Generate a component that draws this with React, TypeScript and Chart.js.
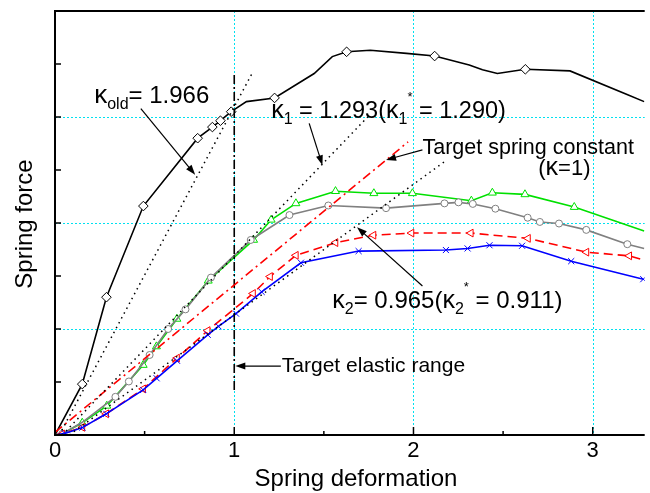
import React, { useEffect, useRef } from 'react';
import { Chart, registerables } from 'chart.js';
Chart.register(...registerables);

// ---- axes ----
const X_MIN = 0;
const X_MAX = 3.29;
const Y_MIN = 0;
const Y_MAX = 8;
const xTickLabels = ['0', '1', '2', '3'];
const xMajorTicks = [0, 1, 2, 3];
const xMinorTicks = [0.5, 1.5, 2.5];
const yTicks = [1, 2, 3, 4, 5, 6, 7];
const xGrid = [1, 2, 3];
const yGrid = [2, 4, 6];

// ---- series (black, diamonds) ----
const blackX = [0, 0.152, 0.287, 0.493, 0.796, 0.878, 0.923, 0.983, 1.068, 1.225, 1.446, 1.547, 1.627, 1.759, 1.961, 2.118, 2.311, 2.385, 2.468, 2.624, 2.873, 3.195, 3.287];
const blackY = [0, 0.96, 2.6, 4.32, 5.6, 5.81, 5.93, 6.1, 6.29, 6.36, 6.82, 7.14, 7.23, 7.26, 7.2, 7.15, 6.98, 6.89, 6.82, 6.9, 6.87, 6.42, 6.29];
const blackMarked = [0, 1, 1, 1, 1, 1, 1, 1, 0, 1, 0, 0, 1, 0, 0, 1, 0, 0, 0, 1, 0, 0, 0];

// ---- series (green, triangles) ----
const greenX = [0, 0.04, 0.152, 0.289, 0.492, 0.566, 0.68, 0.855, 1.108, 1.206, 1.344, 1.565, 1.779, 1.994, 2.323, 2.44, 2.622, 2.897, 3.287];
const greenY = [0, 0.02, 0.23, 0.55, 1.32, 1.67, 2.19, 2.91, 3.68, 4.06, 4.37, 4.6, 4.56, 4.56, 4.42, 4.57, 4.54, 4.3, 3.85];
const greenMarked = [0, 1, 1, 1, 1, 1, 1, 1, 1, 1, 1, 1, 1, 1, 1, 1, 1, 1, 0];

// ---- series (gray, circles) ----
const grayX = [0, 0.04, 0.152, 0.337, 0.412, 0.528, 0.631, 0.728, 0.87, 1.092, 1.308, 1.525, 1.847, 2.173, 2.251, 2.331, 2.457, 2.637, 2.705, 2.812, 2.964, 3.193, 3.287];
const grayY = [0, 0.02, 0.24, 0.72, 1.01, 1.51, 2.0, 2.37, 2.97, 3.68, 4.15, 4.33, 4.28, 4.37, 4.39, 4.36, 4.27, 4.1, 4.02, 3.99, 3.87, 3.6, 3.52];
const grayMarked = [0, 1, 0, 1, 1, 1, 1, 1, 1, 1, 1, 1, 1, 1, 1, 1, 1, 1, 1, 1, 1, 1, 0];

// ---- series (red dashed, left triangles) ----
const redX = [0, 0.04, 0.153, 0.286, 0.492, 0.681, 0.852, 1.105, 1.2, 1.344, 1.565, 1.777, 1.989, 2.32, 2.639, 2.965, 3.204, 3.287];
const redY = [0, 0.02, 0.145, 0.4, 0.87, 1.45, 1.97, 2.67, 2.99, 3.39, 3.63, 3.77, 3.81, 3.81, 3.71, 3.45, 3.38, 3.3];
const redMarked = [0, 1, 1, 1, 1, 1, 1, 1, 1, 1, 1, 1, 1, 1, 1, 1, 1, 0];

// ---- series (blue, crosses) ----
const blueX = [0, 0.055, 0.153, 0.286, 0.492, 0.567, 0.681, 0.852, 0.912, 1.01, 1.153, 1.372, 1.694, 2.181, 2.302, 2.424, 2.606, 2.88, 3.282];
const blueY = [0, 0.03, 0.14, 0.4, 0.85, 1.07, 1.4, 1.89, 2.05, 2.29, 2.7, 3.25, 3.47, 3.49, 3.52, 3.58, 3.57, 3.28, 2.94];
const blueMarked = [0, 1, 1, 1, 1, 1, 1, 1, 1, 1, 1, 1, 1, 1, 1, 1, 1, 1, 1];

// ---- reference lines ----
const kOldX = [0.024, 1.099];
const kOldY = [0, 6.82];
const k1X = [0.04, 1.75];
const k1Y = [0, 6.02];
const k2X = [0.08, 2.17];
const k2Y = [0, 5.15];
const targetX = [0, 1.97];
const targetY = [0.05, 5.53];
const elasticX = [1, 1];
const elasticY = [0.85, 6.83];

// ---- annotations (data coordinates) ----
const kOldLabelAt = [0.23, 6.26];
const kOldArrow = [0.479, 6.16, 0.782, 4.91];
const k1LabelAt = [1.206, 5.99];
const k1Arrow = [1.418, 5.88, 1.492, 5.09];
const targetLabelAt = [2.05, 5.31];
const targetLabel2At = [2.696, 4.9];
const targetArrow = [2.05, 5.38, 1.847, 5.19];
const k2LabelAt = [1.547, 2.39];
const k2Arrow = [2.05, 2.81, 1.685, 3.92];
const elasticLabelAt = [1.26, 1.19];
const elasticArrow = [1.26, 1.3, 1.006, 1.3];

const FONT = "'Liberation Sans', Arial, Helvetica, sans-serif";

const pts = (xs: number[], ys: number[]) => xs.map((x, i) => ({ x, y: ys[i] }));
const radii = (m: number[], r: number) => m.map((v) => (v ? r : 0));

type Seg = [string, number, number];

function drawRich(ctx: CanvasRenderingContext2D, segs: Seg[], x: number, y: number) {
  let cx = x;
  ctx.textAlign = 'left';
  ctx.textBaseline = 'alphabetic';
  for (const [t, s, dy] of segs) {
    ctx.font = `${s}px ${FONT}`;
    ctx.fillText(t, cx, y + dy);
    cx += ctx.measureText(t).width;
  }
}

function drawArrow(ctx: CanvasRenderingContext2D, x1: number, y1: number, x2: number, y2: number) {
  const ang = Math.atan2(y2 - y1, x2 - x1);
  const L = 10;
  const W = 3.5;
  ctx.beginPath();
  ctx.moveTo(x1, y1);
  ctx.lineTo(x2 - Math.cos(ang) * L * 0.8, y2 - Math.sin(ang) * L * 0.8);
  ctx.stroke();
  ctx.beginPath();
  ctx.moveTo(x2, y2);
  ctx.lineTo(x2 - Math.cos(ang) * L - Math.sin(ang) * W, y2 - Math.sin(ang) * L + Math.cos(ang) * W);
  ctx.lineTo(x2 - Math.cos(ang) * L + Math.sin(ang) * W, y2 - Math.sin(ang) * L - Math.cos(ang) * W);
  ctx.closePath();
  ctx.fill();
}

const gridPlugin = {
  id: 'gridPlugin',
  beforeDatasetsDraw(chart: any) {
    const { ctx, chartArea: a, scales } = chart;
    const xs = scales.x;
    const ys = scales.y;
    ctx.save();
    ctx.strokeStyle = 'rgb(0,225,240)';
    ctx.lineWidth = 1;
    ctx.setLineDash([2, 2]);
    for (const v of xGrid) {
      const px = Math.round(xs.getPixelForValue(v)) + 0.5;
      ctx.beginPath();
      ctx.moveTo(px, a.top);
      ctx.lineTo(px, a.bottom);
      ctx.stroke();
    }
    for (const v of yGrid) {
      const py = Math.round(ys.getPixelForValue(v)) + 0.5;
      ctx.beginPath();
      ctx.moveTo(a.left, py);
      ctx.lineTo(a.right, py);
      ctx.stroke();
    }
    ctx.restore();
  },
  afterDatasetsDraw(chart: any) {
    const { ctx, chartArea: a, scales } = chart;
    const xs = scales.x;
    const ys = scales.y;
    const P = (x: number, y: number) => [xs.getPixelForValue(x), ys.getPixelForValue(y)];
    ctx.save();
    ctx.setLineDash([]);
    ctx.strokeStyle = '#000';
    ctx.fillStyle = '#000';
    // frame
    ctx.lineWidth = 2;
    ctx.beginPath();
    ctx.moveTo(a.right, a.top);
    ctx.lineTo(a.left, a.top);
    ctx.lineTo(a.left, a.bottom);
    ctx.lineTo(a.right, a.bottom);
    ctx.stroke();
    // ticks
    ctx.lineWidth = 1.5;
    for (const v of yTicks) {
      const py = ys.getPixelForValue(v);
      ctx.beginPath();
      ctx.moveTo(a.left, py);
      ctx.lineTo(a.left + 6, py);
      ctx.stroke();
    }
    for (const v of xMajorTicks) {
      const px = xs.getPixelForValue(v);
      ctx.beginPath();
      ctx.moveTo(px, a.bottom);
      ctx.lineTo(px, a.bottom - 8);
      ctx.stroke();
    }
    for (const v of xMinorTicks) {
      const px = xs.getPixelForValue(v);
      ctx.beginPath();
      ctx.moveTo(px, a.bottom);
      ctx.lineTo(px, a.bottom - 4);
      ctx.stroke();
    }
    // tick labels
    ctx.font = `22px ${FONT}`;
    ctx.textAlign = 'center';
    ctx.textBaseline = 'alphabetic';
    xMajorTicks.forEach((v, i) => {
      ctx.fillText(xTickLabels[i], xs.getPixelForValue(v), a.bottom + 22);
    });
    // axis titles
    ctx.font = `24px ${FONT}`;
    ctx.fillText('Spring deformation', a.left + 301, a.bottom + 51);
    ctx.save();
    ctx.translate(32, a.top + 213);
    ctx.rotate(-Math.PI / 2);
    ctx.fillText('Spring force', 0, 0);
    ctx.restore();

    // annotations
    ctx.lineWidth = 1.2;
    const arrow = (r: number[]) => {
      const [x1, y1] = P(r[0], r[1]);
      const [x2, y2] = P(r[2], r[3]);
      drawArrow(ctx, x1, y1, x2, y2);
    };
    arrow(kOldArrow);
    arrow(k1Arrow);
    arrow(targetArrow);
    arrow(k2Arrow);
    arrow(elasticArrow);

    let [tx, ty] = P(kOldLabelAt[0], kOldLabelAt[1]);
    drawRich(ctx, [['κ', 26, 0], ['old', 16, 6], ['= 1.966', 24, 0]], tx - 2, ty);
    [tx, ty] = P(k1LabelAt[0], k1LabelAt[1]);
    drawRich(ctx, [['κ', 25, 0], ['1', 16, 6], [' = 1.293(', 23.5, 0], ['κ', 25, 0], ['1', 16, 6], ['*', 13, -17], [' = 1.290)', 23.5, 0]], tx, ty);
    [tx, ty] = P(k2LabelAt[0], k2LabelAt[1]);
    drawRich(ctx, [['κ', 25, 0], ['2', 16, 6], ['= 0.965(', 24, 0], ['κ', 25, 0], ['2', 16, 6], ['*', 13, -17], [' = 0.911)', 24, 0]], tx, ty);
    [tx, ty] = P(targetLabelAt[0], targetLabelAt[1]);
    drawRich(ctx, [['Target spring constant', 21.5, 0]], tx, ty);
    [tx, ty] = P(targetLabel2At[0], targetLabel2At[1]);
    drawRich(ctx, [['(', 22, 0], ['κ', 25, 0], ['=1)', 22, 0]], tx, ty);
    [tx, ty] = P(elasticLabelAt[0], elasticLabelAt[1]);
    drawRich(ctx, [['Target elastic range', 21, 0]], tx + 1, ty);
    ctx.restore();
  },
};

export default function App() {
  const ref = useRef<HTMLCanvasElement | null>(null);
  useEffect(() => {
    if (!ref.current) return;
    const refLine = (xs: number[], ys: number[], color: string, dash: number[], width = 1.5) => ({
      data: pts(xs, ys),
      borderColor: color,
      borderWidth: width,
      borderDash: dash,
      pointRadius: 0,
      fill: false,
      tension: 0,
    });
    const series = (xs: number[], ys: number[], marks: number[], color: string, style: string, r: number, extra: any = {}) => ({
      data: pts(xs, ys),
      borderColor: color,
      borderWidth: 1.6,
      pointStyle: style,
      pointRadius: radii(marks, r),
      pointBorderColor: color,
      pointBackgroundColor: '#fff',
      pointBorderWidth: 1,
      fill: false,
      tension: 0,
      ...extra,
    });
    const chart = new Chart(ref.current, {
      type: 'line',
      data: {
        datasets: [
          refLine(kOldX, kOldY, '#000', [1.5, 4], 1.5),
          refLine(k1X, k1Y, '#000', [1.5, 4], 1.5),
          refLine(k2X, k2Y, '#000', [1.5, 4], 1.5),
          refLine(targetX, targetY, '#ff0000', [9, 4, 2, 4], 1.6),
          refLine(elasticX, elasticY, '#000', [9, 3, 2, 3], 1.6),
          series(blueX, blueY, blueMarked, '#0000ff', 'crossRot', 4.3, { pointBackgroundColor: '#0000ff' }),
          series(redX, redY, redMarked, '#ff0000', 'triangle', 4.5, { borderDash: [9, 5], pointRotation: -90 }),
          series(grayX, grayY, grayMarked, '#808080', 'circle', 3.5),
          series(greenX, greenY, greenMarked, '#00e000', 'triangle', 4.6),
          series(blackX, blackY, blackMarked, '#000000', 'rectRot', 4.8),
        ],
      },
      options: {
        responsive: false,
        animation: false,
        layout: { padding: { left: 55, top: 11, right: 0, bottom: 58 } },
        plugins: { legend: { display: false }, tooltip: { enabled: false } },
        scales: {
          x: { type: 'linear', display: false, min: X_MIN, max: X_MAX },
          y: { type: 'linear', display: false, min: Y_MIN, max: Y_MAX },
        },
      },
      plugins: [gridPlugin],
    });
    return () => chart.destroy();
  }, []);
  return (
    <div style={{ position: 'fixed', left: 0, top: 0, width: 650, height: 493, background: '#fff' }}>
      <canvas ref={ref} width={650} height={493} />
    </div>
  );
}
